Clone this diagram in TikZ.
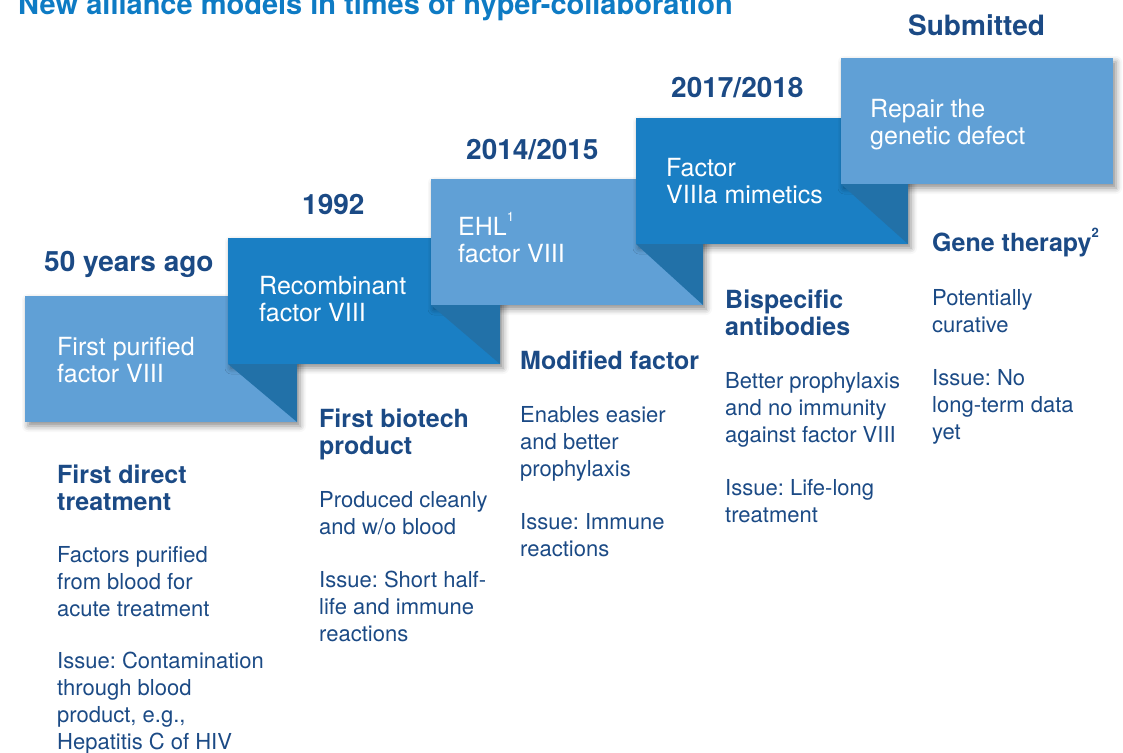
\documentclass[tikz,border=0pt]{standalone}
\usepackage{fontspec}
\setmainfont{TeX Gyre Heros}
\frenchspacing
\usetikzlibrary{shadows.blur}
\definecolor{boxlight}{RGB}{96,160,214}
\definecolor{boxmid}{RGB}{26,127,196}
\definecolor{folddark}{RGB}{34,113,168}
\definecolor{titleblue}{RGB}{14,123,196}
\definecolor{navy}{RGB}{27,74,133}
\newcommand{\smallsup}[1]{\raisebox{0.55em}{\fontsize{13}{13}\selectfont #1}}
\begin{document}
\begin{tikzpicture}[x=1pt,y=-1pt,
  stepbox/.style={draw=none,inner sep=0pt,outer sep=0pt,minimum width=272pt,minimum height=126pt,anchor=north west,
    blur shadow={shadow xshift=3pt,shadow yshift=-4pt,shadow blur radius=6pt,shadow opacity=45}},
  foldtri/.style={fill=folddark},
  yearlbl/.style={anchor=base west,inner sep=0pt,font=\fontsize{28}{32}\selectfont\bfseries,text=navy},
  boxtxt/.style={anchor=base west,inner sep=0pt,font=\fontsize{25}{27}\selectfont,text=white,align=left},
  headtxt/.style={anchor=base west,inner sep=0pt,font=\fontsize{25}{27}\selectfont\bfseries,text=navy,align=left},
  bodytxt/.style={anchor=base west,inner sep=0pt,font=\fontsize{22}{26.8}\selectfont,text=navy,align=left}]
\useasboundingbox (0,0) rectangle (1123,752);

\node[anchor=base west,inner sep=0pt,font=\fontsize{29}{32}\selectfont\bfseries,text=titleblue] (title) at (18,15) {New alliance models in times of hyper-collaboration};

% boxes and folds
\node[stepbox,fill=boxlight] (b1) at (25,296) {};
\node[stepbox,fill=boxmid] (b2) at (228,238) {};
\fill[foldtri] (b2.south west) -- (b2.south west -| b1.east) -- (b1.south east) -- cycle;
\node[stepbox,fill=boxlight] (b3) at (431,179) {};
\fill[foldtri] (b3.south west) -- (b3.south west -| b2.east) -- (b2.south east) -- cycle;
\node[stepbox,fill=boxmid] (b4) at (636,118) {};
\fill[foldtri] (b4.south west) -- (b4.south west -| b3.east) -- (b3.south east) -- cycle;
\node[stepbox,fill=boxlight] (b5) at (841,58) {};
\fill[foldtri] (b5.south west) -- (b5.south west -| b4.east) -- (b4.south east) -- cycle;

% box texts (positioned by last-line baseline)
\node[boxtxt] (t1) at (57,382) {First purified\\factor VIII};
\node[boxtxt] (t2) at (259,321) {Recombinant\\factor VIII};
\node[boxtxt] (t3) at (458,262) {EHL\smallsup{1}\\factor VIII};
\node[boxtxt] (t4) at (666,203) {Factor\\VIIIa mimetics};
\node[boxtxt] (t5) at (870,144) {Repair the\\genetic defect};

% years
\node[yearlbl] (y1) at (44,271) {50 years ago};
\node[yearlbl] (y2) at (302,214) {1992};
\node[yearlbl] (y3) at (466,159) {2014/2015};
\node[yearlbl] (y4) at (671,97) {2017/2018};
\node[yearlbl] (y5) at (908,36) {Submitted};

% column 1
\node[headtxt] (h1) at (57,510) {First direct\\treatment};
\node[bodytxt] (d1) at (57,616) {Factors purified\\from blood for\\acute treatment};
\node[bodytxt] (i1) at (57,749) {Issue: Contamination\\through blood\\product, e.g.,\\Hepatitis C of HIV};
% column 2
\node[headtxt] (h2) at (319,454) {First biotech\\product};
\node[bodytxt] (d2) at (319,534) {Produced cleanly\\and w/o blood};
\node[bodytxt] (i2) at (319,641) {Issue: Short half-\\life and immune\\reactions};
% column 3
\node[headtxt] (h3) at (520,369) {Modified factor};
\node[bodytxt] (d3) at (520,476) {Enables easier\\and better\\prophylaxis};
\node[bodytxt] (i3) at (520,556) {Issue: Immune\\reactions};
% column 4
\node[headtxt] (h4) at (725,335) {Bispecific\\antibodies};
\node[bodytxt] (d4) at (725,442) {Better prophylaxis\\and no immunity\\against factor VIII};
\node[bodytxt] (i4) at (725,522) {Issue: Life-long\\treatment};
% column 5
\node[headtxt] (h5) at (932,251) {Gene therapy\smallsup{2}};
\node[bodytxt] (d5) at (932,332) {Potentially\\curative};
\node[bodytxt] (i5) at (932,439) {Issue: No\\long-term data\\yet};
\end{tikzpicture}
\end{document}
